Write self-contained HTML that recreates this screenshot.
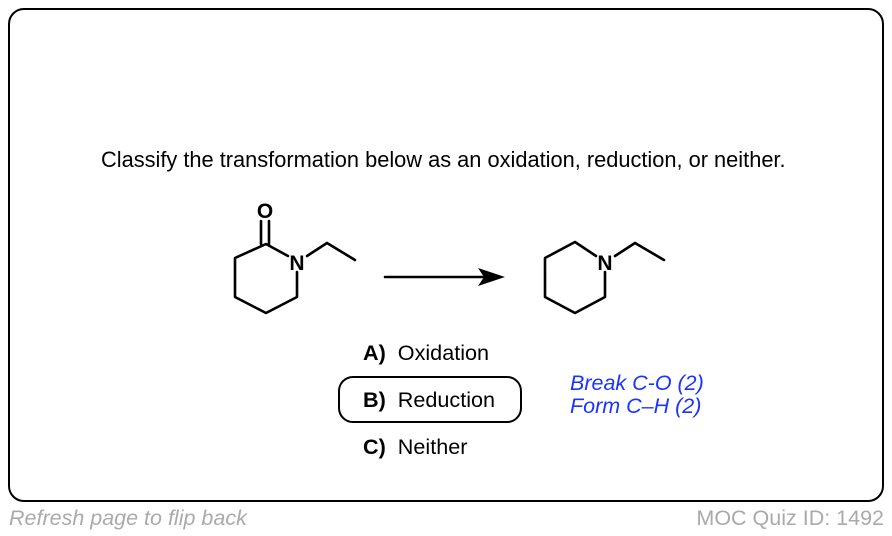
<!DOCTYPE html>
<html><head><style>
body{margin:0;width:892px;height:536px;background:#fff;position:relative;font-family:"Liberation Sans",Arial,sans-serif;overflow:hidden}
.frame{position:absolute;left:8px;top:8px;width:872px;height:490px;border:2px solid #000;border-radius:16px}
.t{position:absolute;white-space:nowrap;color:#000}
</style></head><body>
<div class="frame"></div>
<div class="t" style="left:101px;top:147px;font-size:21.8px">Classify the transformation below as an oxidation, reduction, or neither.</div>
<svg width="892" height="536" style="position:absolute;left:0;top:0" >
<g stroke="#000" stroke-width="2.6" fill="none" stroke-linecap="round" stroke-linejoin="round">
<polyline points="288,256 266,244 235,258 235,297 266,313 297,297 297,272"/>
<line x1="261" y1="244" x2="261" y2="221"/><line x1="269" y1="244" x2="269" y2="221"/>
<polyline points="307,256 327,243 355,260"/>
<line x1="385" y1="277" x2="490" y2="277"/>
<polyline points="596,256 575,242 545,258 545,297 575,313 605,297 605,272"/>
<polyline points="615,256 635,243 664,260"/>
</g>
<polygon points="505,277 478,268 484,277 478,286" fill="#000"/>
<g font-family="Liberation Sans,Arial,sans-serif" font-weight="bold" font-size="21" text-anchor="middle">
<text x="265" y="218">O</text><text x="297" y="270">N</text><text x="605" y="270">N</text>
</g>
</svg>
<div style="position:absolute;left:338px;top:376px;width:180px;height:43px;border:2.5px solid #000;border-radius:15px"></div>
<div class="t" style="left:363px;top:340px;font-size:21.6px"><b>A)</b>&nbsp; Oxidation</div>
<div class="t" style="left:363px;top:387px;font-size:21.6px"><b>B)</b>&nbsp; Reduction</div>
<div class="t" style="left:363px;top:434px;font-size:21.6px"><b>C)</b>&nbsp; Neither</div>
<div class="t" style="left:570px;top:372px;font-size:21.5px;font-style:italic;color:#1a33ff;line-height:23px">Break C-O (2)<br>Form C–H (2)</div>
<div class="t" style="left:9px;top:506px;font-size:21.5px;font-style:italic;color:#aaa">Refresh page to flip back</div>
<div class="t" style="right:8px;top:506px;font-size:21.5px;color:#aaa">MOC Quiz ID: 1492</div>
</body></html>
